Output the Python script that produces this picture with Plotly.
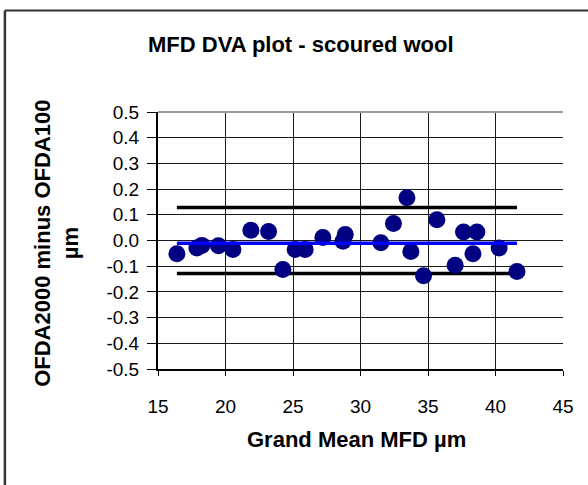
import plotly.graph_objects as go

# Data
grand_mean_mfd = [16.40, 17.88, 18.25, 19.48, 20.55, 21.88, 23.19, 24.25, 25.16, 25.90,
                  27.21, 28.70, 28.87, 31.51, 32.44, 33.44, 33.73, 34.67, 35.66, 37.01,
                  37.63, 38.33, 38.62, 40.27, 41.59]
difference = [-0.052, -0.029, -0.019, -0.020, -0.035, 0.040, 0.035, -0.113, -0.035, -0.035,
              0.012, -0.003, 0.023, -0.009, 0.066, 0.166, -0.043, -0.137, 0.081, -0.096,
              0.033, -0.052, 0.033, -0.029, -0.121]
mean_diff = -0.011
upper_limit = 0.128
lower_limit = -0.128

x_ticks = [15, 20, 25, 30, 35, 40, 45]
y_ticks = [0.5, 0.4, 0.3, 0.2, 0.1, 0.0, -0.1, -0.2, -0.3, -0.4, -0.5]
y_tick_text = ["%.1f" % v for v in y_ticks]

title_text = "MFD DVA plot - scoured wool"
x_title = "Grand Mean MFD µm"
y_title = "OFDA2000 minus OFDA100<br>µm"

FONT = "Liberation Sans, Arial, sans-serif"

x_span = [min(grand_mean_mfd), max(grand_mean_mfd)]

fig = go.Figure()
fig.add_trace(go.Scatter(x=x_span, y=[upper_limit, upper_limit], mode="lines",
                         line=dict(color="black", width=3.5), hoverinfo="skip"))
fig.add_trace(go.Scatter(x=x_span, y=[lower_limit, lower_limit], mode="lines",
                         line=dict(color="black", width=3.5), hoverinfo="skip"))
fig.add_trace(go.Scatter(x=grand_mean_mfd, y=difference, mode="markers",
                         marker=dict(color="#000080", size=17, line=dict(width=0))))
fig.add_trace(go.Scatter(x=x_span, y=[mean_diff, mean_diff], mode="lines",
                         line=dict(color="#0000FF", width=3.5), hoverinfo="skip"))

fig.update_layout(
    width=588, height=485,
    margin=dict(l=158, r=25, t=112, b=116, pad=0),
    paper_bgcolor="white", plot_bgcolor="white",
    showlegend=False,
    font=dict(family=FONT, color="black", size=19),
    xaxis=dict(range=[15, 45], tickvals=x_ticks, ticktext=[str(v) for v in x_ticks],
               showgrid=True, gridcolor="#1a1a1a", gridwidth=1,
               showline=True, linecolor="black", linewidth=1.5,
               ticks="outside", ticklen=5, tickcolor="black", tickwidth=1,
               ticklabelstandoff=14, zeroline=False,
               tickfont=dict(family=FONT, size=19, color="black")),
    yaxis=dict(range=[-0.5, 0.5], tickvals=y_ticks, ticktext=y_tick_text,
               showgrid=True, gridcolor="#1a1a1a", gridwidth=1,
               showline=True, linecolor="black", linewidth=2,
               ticks="outside", ticklen=9, tickcolor="black", tickwidth=1,
               ticklabelstandoff=4, zeroline=False,
               tickfont=dict(family=FONT, size=19, color="black")),
    shapes=[
        # top edge of the plot area (grey)
        dict(type="line", xref="paper", yref="paper", x0=0, x1=1, y0=1, y1=1,
             line=dict(color="#9a9a9a", width=2), layer="above"),
        # chart border (left and top)
        dict(type="line", xref="paper", yref="paper", x0=-0.378, x1=-0.378, y0=1.395, y1=-0.6,
             line=dict(color="#333333", width=2.5)),
        dict(type="line", xref="paper", yref="paper", x0=-0.378, x1=1.2, y0=1.395, y1=1.395,
             line=dict(color="#333333", width=2)),
    ],
    annotations=[
        dict(text="<b>" + title_text + "</b>", xref="paper", yref="paper",
             x=0.353, y=1.261, xanchor="center", yanchor="middle", showarrow=False,
             font=dict(family=FONT, size=22, color="black")),
        dict(text="<b>" + x_title + "</b>", xref="paper", yref="paper",
             x=0.491, y=-0.276, xanchor="center", yanchor="middle", showarrow=False,
             font=dict(family=FONT, size=22, color="black")),
        dict(text="<b>" + y_title + "</b>", xref="paper", yref="paper",
             x=-0.25, y=0.49, xanchor="center", yanchor="middle", showarrow=False,
             textangle=-90, font=dict(family=FONT, size=22, color="black")),
    ],
)

fig.write_html(
    "out.html",
    config={"displayModeBar": False},
    post_script="document.body.style.margin='0';document.body.style.overflow='hidden';"
                "document.documentElement.style.overflow='hidden';",
)
